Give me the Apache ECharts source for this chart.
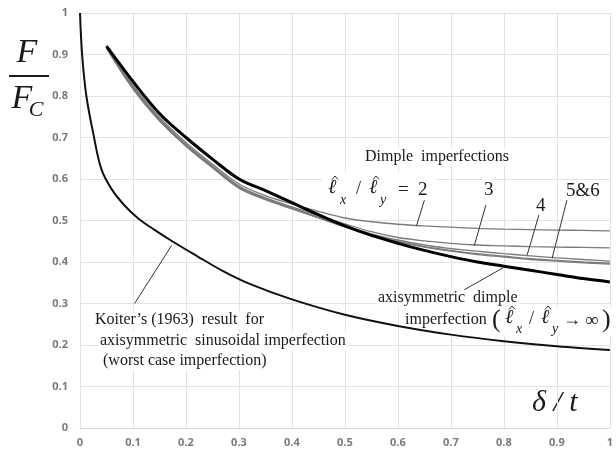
<!DOCTYPE html>
<html>
<head>
<meta charset="utf-8">
<script src="https://cdn.jsdelivr.net/npm/echarts@6/dist/echarts.min.js"></script>
<style>html,body{margin:0;padding:0;background:#fff}#c{width:616px;height:450px}</style>
</head>
<body>
<div id="c"></div>
<script>
// ---- data ----
const xTicks = [0,0.1,0.2,0.3,0.4,0.5,0.6,0.7,0.8,0.9,1];
const yTicks = [0,0.1,0.2,0.3,0.4,0.5,0.6,0.7,0.8,0.9,1];

const koiterX = [0,0.004,0.012,0.025,0.04,0.06,0.085,0.11,0.14,0.174,0.22,0.27,0.319,0.4,0.5,0.6,0.7,0.8,0.9,1.0];
const koiterY = [1.0,0.9,0.8,0.71,0.625,0.575,0.535,0.505,0.478,0.45,0.415,0.378,0.348,0.31,0.273,0.246,0.225,0.209,0.197,0.188];

const dimpleX = [0.05,0.1,0.15,0.2,0.25,0.3,0.35,0.4,0.45,0.5,0.55,0.6,0.65,0.7,0.75,0.8,0.85,0.9,0.95,1.0];
const axisym  = [0.92,0.835,0.758,0.70,0.648,0.60,0.572,0.543,0.514,0.487,0.464,0.445,0.428,0.413,0.40,0.39,0.38,0.37,0.36,0.352];
const ratio2  = [0.918,0.826,0.749,0.688,0.636,0.588,0.560,0.540,0.522,0.506,0.497,0.491,0.487,0.484,0.481,0.479,0.478,0.477,0.476,0.475];
const ratio3  = [0.917,0.822,0.745,0.684,0.632,0.583,0.555,0.533,0.512,0.492,0.473,0.459,0.451,0.445,0.441,0.439,0.437,0.436,0.435,0.434];
const ratio4  = [0.916,0.820,0.743,0.682,0.630,0.581,0.553,0.530,0.508,0.487,0.468,0.453,0.441,0.432,0.426,0.42,0.415,0.41,0.406,0.402];
const ratio5  = [0.916,0.818,0.741,0.680,0.628,0.579,0.551,0.529,0.507,0.485,0.466,0.45,0.437,0.428,0.42,0.414,0.408,0.404,0.4,0.397];
const ratio6  = [0.915,0.817,0.740,0.679,0.627,0.578,0.550,0.528,0.506,0.484,0.465,0.449,0.436,0.426,0.418,0.412,0.406,0.402,0.398,0.395];

// leader lines (data coordinates): [x1,y1,x2,y2]
const leaders = [
  [0.65,0.549,0.635,0.487],
  [0.766,0.537,0.744,0.439],
  [0.866,0.513,0.844,0.417],
  [0.919,0.549,0.891,0.409],
  [0.725,0.333,0.80,0.387],
  [0.103,0.30,0.173,0.44]
];

const pair = (xs, ys) => xs.map((x,i)=>[x, ys[i]]);
const SERIF = "'Liberation Serif','DejaVu Serif',serif";
const INK = '#1a1a1a';

function thin(name, ys){
  return {name, type:'line', data:pair(dimpleX, ys), showSymbol:false, smooth:0.35,
    lineStyle:{color:'#7a7a7a', width:1.3}, z:3, silent:true};
}

const chart = echarts.init(document.getElementById('c'), null, {renderer:'canvas'});
const lbl = {color:'#7a7a7a', fontSize:11, fontWeight:'bold', fontFamily:"'Open Sans','Liberation Sans',sans-serif"};

const option = {
  animation:false,
  backgroundColor:'#fff',
  grid:{left:80, right:3, top:13, bottom:22, containLabel:false},
  xAxis:{type:'value', min:0, max:1, interval:0.1,
    axisLine:{show:true, lineStyle:{color:'#d9d9d9'}}, axisTick:{show:false},
    axisLabel:Object.assign({margin:9, formatter:v=>String(+v.toFixed(1))}, lbl),
    splitLine:{show:true, lineStyle:{color:'#e3e3e3', width:1}}},
  yAxis:{type:'value', min:0, max:1, interval:0.1,
    axisLine:{show:true, lineStyle:{color:'#e3e3e3'}}, axisTick:{show:false},
    axisLabel:Object.assign({margin:12, formatter:v=>String(+v.toFixed(1))}, lbl),
    splitLine:{show:true, lineStyle:{color:'#e3e3e3', width:1}}},
  series:[
    {name:'Koiter', type:'line', data:pair(koiterX, koiterY), showSymbol:false, smooth:0.35,
      lineStyle:{color:'#111', width:2}, z:3, silent:true,
      markLine:{silent:true, symbol:['none','none'], label:{show:false}, animation:false,
        lineStyle:{color:'#333', width:1, type:'solid'},
        data: leaders.map(l=>[{coord:[l[0],l[1]]},{coord:[l[2],l[3]]}])}},
    thin('2', ratio2), thin('3', ratio3), thin('4', ratio4), thin('5', ratio5), thin('6', ratio6),
    {name:'axisym', type:'line', data:pair(dimpleX, axisym), showSymbol:false, smooth:0.35,
      lineStyle:{color:'#000', width:3}, z:4, silent:true}
  ],
  graphic:[]
};

function txt(x, y, text, font, bg){
  return {type:'text', x, y, z:1, silent:true,
    style:{text, font, fill:INK, align:'left', verticalAlign:'middle',
      backgroundColor: bg===false ? null : '#fff', padding: bg===false ? 0 : [1,2]}};
}
function rect(x, y, w, h){
  return {type:'rect', z:1, silent:true, shape:{x, y, width:w, height:h}, style:{fill:'#fff'}};
}
function hat(cx, top){
  return {type:'polyline', z:1, silent:true, shape:{points:[[cx-3,top+3.5],[cx,top],[cx+3,top+3.5]]},
    style:{stroke:INK, lineWidth:0.9, fill:null}};
}
const G = [];
const L = "italic 20px "+SERIF, S = "italic 14px "+SERIF;
// "Dimple imperfections"
G.push(txt(363,157,'Dimple  imperfections','16px '+SERIF));
// equation  l^x / l^y = 2
G.push(rect(322,172,114,36));
G.push(txt(328,188,'ℓ',L,false), hat(335,176));
G.push(txt(340,200,'x',S,false));
G.push(txt(356,189,'/','18px '+SERIF,false));
G.push(txt(369,188,'ℓ',L,false), hat(376,176));
G.push(txt(380,200,'y',S,false));
G.push(txt(398,190,'=','19px '+SERIF,false));
G.push(txt(418,190,'2','19px '+SERIF,false));
G.push(txt(482,190,'3','19px '+SERIF));
G.push(txt(534,206,'4','19px '+SERIF));
G.push(txt(564,191,'5&6','19px '+SERIF));
// axisymmetric dimple imperfection (l^x / l^y -> inf)
G.push(txt(376,298,'axisymmetric  dimple','16px '+SERIF));
G.push(rect(401,307,212,28));
G.push(txt(405,320,'imperfection','16px '+SERIF,false));
G.push(txt(492,320,'(','26px '+SERIF,false));
G.push(txt(505,318,'ℓ',L,false), hat(512,306));
G.push(txt(516,329,'x',S,false));
G.push(txt(529,319,'/','18px '+SERIF,false));
G.push(txt(541,318,'ℓ',L,false), hat(548,306));
G.push(txt(552,329,'y',S,false));
G.push(txt(563,320,'→','18px '+SERIF,false));
G.push(txt(585,321,'∞','19px '+SERIF,false));
G.push(txt(602,320,')','26px '+SERIF,false));
// Koiter
G.push(txt(93,320,'Koiter’s (1963)  result  for','16px '+SERIF));
G.push(txt(98,341,'axisymmetric  sinusoidal imperfection','16px '+SERIF));
G.push(txt(101,361,'(worst case imperfection)','16px '+SERIF));
// y-axis title F / F_C
G.push({type:'text', x:27, y:53, silent:true, style:{text:'F', font:'italic 34px '+SERIF, fill:INK, align:'center', verticalAlign:'middle'}});
G.push({type:'line', silent:true, shape:{x1:9,y1:76,x2:49,y2:76}, style:{stroke:INK, lineWidth:2}});
G.push({type:'text', x:22, y:99, silent:true, style:{text:'F', font:'italic 34px '+SERIF, fill:INK, align:'center', verticalAlign:'middle'}});
G.push({type:'text', x:36, y:110, silent:true, style:{text:'C', font:'italic 22px '+SERIF, fill:INK, align:'center', verticalAlign:'middle'}});
// x-axis title
G.push({type:'text', x:532, y:403, silent:true, style:{text:'δ / t', font:'italic 30px '+SERIF, fill:INK, align:'left', verticalAlign:'middle'}});
option.graphic = G;

chart.setOption(option);
</script>
</body>
</html>
